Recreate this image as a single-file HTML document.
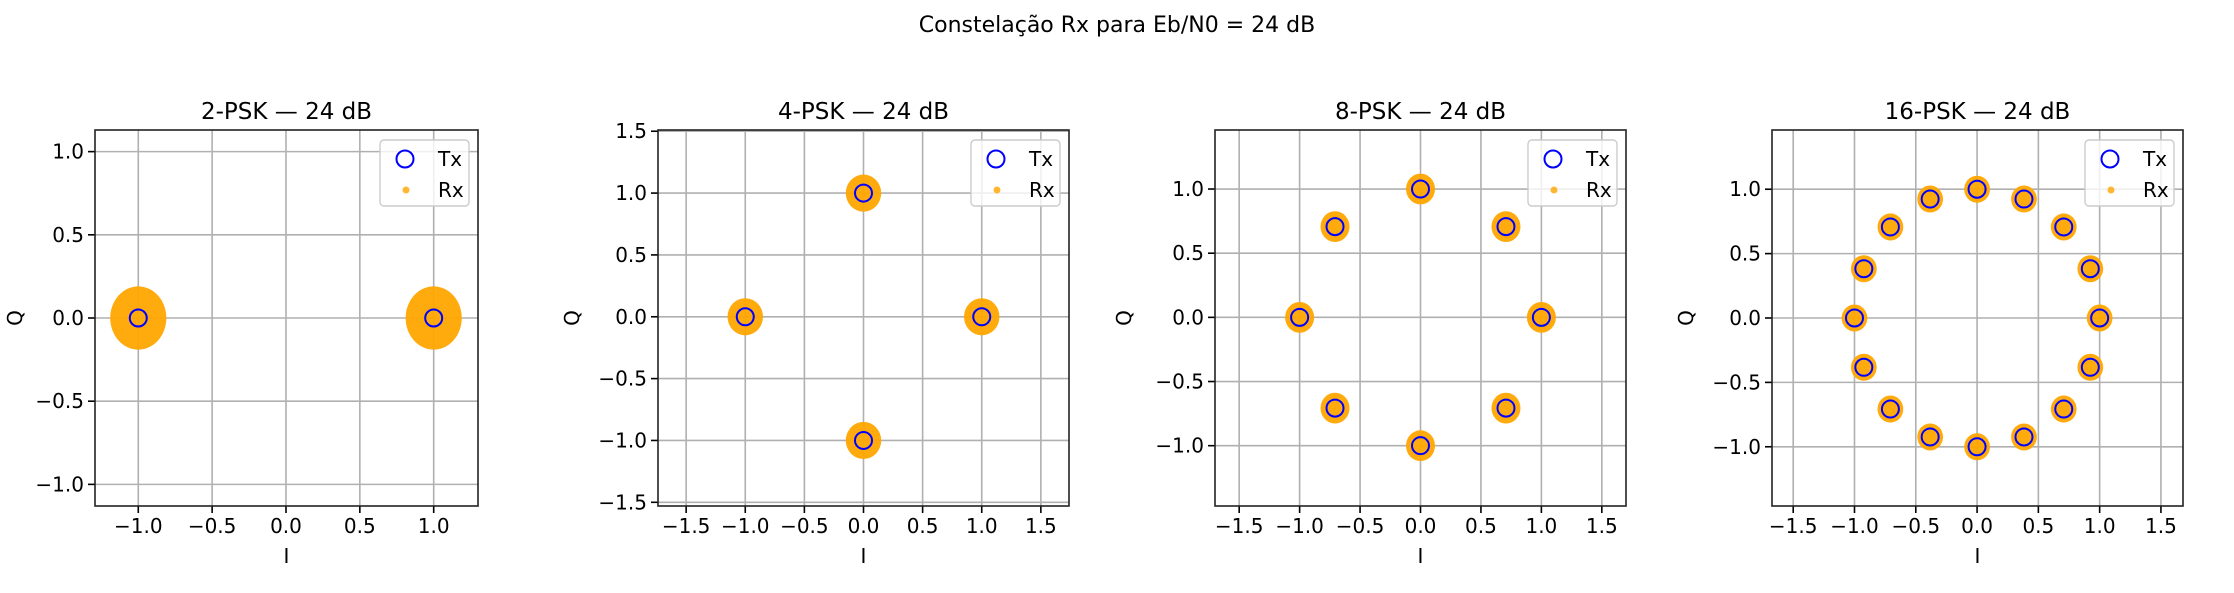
<!DOCTYPE html>
<html><head><meta charset="utf-8">
<style>
html,body{margin:0;padding:0;background:#fff;}
svg{display:block;font-family:"DejaVu Sans","Liberation Sans",sans-serif;}
</style></head>
<body>
<svg id="fig" width="2234" height="593" viewBox="0 0 2234 593" xmlns="http://www.w3.org/2000/svg">
<rect width="2234" height="593" fill="#fff"/>
<text x="1117" y="32" font-size="22" text-anchor="middle" fill="#000">Constelação Rx para Eb/N0 = 24 dB</text>
</svg>
<script>
// chart data
const panelTitles = ["2-PSK — 24 dB","4-PSK — 24 dB","8-PSK — 24 dB","16-PSK — 24 dB"];
const orders = [2,4,8,16];
const xRanges = [[-1.293,1.30],[-1.738,1.738],[-1.70,1.70],[-1.673,1.68]];
const yRanges = [[-1.13,1.13],[-1.53,1.51],[-1.47,1.46],[-1.46,1.46]];
const xTicks = [[-1,-0.5,0,0.5,1],[-1.5,-1,-0.5,0,0.5,1,1.5],[-1.5,-1,-0.5,0,0.5,1,1.5],[-1.5,-1,-0.5,0,0.5,1,1.5]];
const yTicks = [[-1,-0.5,0,0.5,1],[-1.5,-1,-0.5,0,0.5,1,1.5],[-1,-0.5,0,0.5,1],[-1,-0.5,0,0.5,1]];
const rxSpread = [0.19,0.15,0.12,0.105];
// layout
const boxes = [[95,130,478,506],[658,130,1069,506],[1215,130,1626,506],[1772,130,2183,506]];

const NS="http://www.w3.org/2000/svg";
const svg=document.getElementById('fig');
function mk(tag,attrs,parent){const e=document.createElementNS(NS,tag);for(const k in attrs)e.setAttribute(k,attrs[k]);(parent||svg).appendChild(e);return e;}
function fmt(v){const s=Math.abs(v).toFixed(1);return v<0?"\u2212"+s:s;}

panelTitles.forEach((title,p)=>{
  const [L,T,R,B]=boxes[p];
  const [x0,x1]=xRanges[p],[y0,y1]=yRanges[p];
  const sx=v=>L+(v-x0)/(x1-x0)*(R-L);
  const sy=v=>B-(v-y0)/(y1-y0)*(B-T);
  const g=mk('g',{});
  
  
  const clipId='clip'+p;
  const cp=mk('clipPath',{id:clipId},g);mk('rect',{x:L,y:T,width:R-L,height:B-T},cp);
  // grid & ticks
  xTicks[p].forEach(v=>{
    const x=sx(v);
    const gl=mk('line',{x1:x,x2:x,y1:T,y2:B,stroke:'#b0b0b0','stroke-width':1.6},g);
    
    
    mk('line',{x1:x,x2:x,y1:B,y2:B+7,stroke:'#000','stroke-width':1.6},g);
    const t=mk('text',{x:x,y:B+27,'font-size':20,'text-anchor':'middle',fill:'#000'},g);
    
    
    t.textContent=fmt(v);
  });
  yTicks[p].forEach(v=>{
    const y=sy(v);
    const gl=mk('line',{x1:L,x2:R,y1:y,y2:y,stroke:'#b0b0b0','stroke-width':1.6},g);
    
    
    mk('line',{x1:L-7,x2:L,y1:y,y2:y,stroke:'#000','stroke-width':1.6},g);
    const t=mk('text',{x:L-11,y:y+7,'font-size':20,'text-anchor':'end',fill:'#000'},g);
    
    
    t.textContent=fmt(v);
  });
  const M=orders[p];
  const cg=mk('g',{'clip-path':'url(#'+clipId+')'},g);
  // Rx clusters
  for(let k=0;k<M;k++){
    const a=2*Math.PI*k/M, cx=Math.cos(a), cy=Math.sin(a);
    const rx=rxSpread[p]*(R-L)/(x1-x0), ry=rxSpread[p]*(B-T)/(y1-y0);
    const e=mk('ellipse',{cx:sx(cx),cy:sy(cy),rx:rx,ry:ry,fill:'#ffa500','fill-opacity':0.95},cg);
    
    
  }
  // Tx points
  for(let k=0;k<M;k++){
    const a=2*Math.PI*k/M;
    const c=mk('circle',{cx:sx(Math.cos(a)),cy:sy(Math.sin(a)),r:8.5,fill:'none',stroke:'#0000ff','stroke-width':2},cg);
    
    
  }
  // frame
  mk('rect',{x:L,y:T,width:R-L,height:B-T,fill:'none',stroke:'#222','stroke-width':1.6},g);
  // title + labels
  const tt=mk('text',{x:(L+R)/2,y:119,'font-size':23,'text-anchor':'middle',fill:'#000'},g);
  
  
  tt.textContent=title;
  const xl=mk('text',{x:(L+R)/2,y:563,'font-size':20,'text-anchor':'middle',fill:'#000'},g);
  
  
  xl.textContent='I';
  const qx=L-(p===0?73:(p===2?84:79));
  const yl=mk('text',{x:qx,y:(T+B)/2,'font-size':20,'text-anchor':'middle',fill:'#000',transform:'rotate(-90 '+qx+' '+((T+B)/2)+')'},g);
  
  
  yl.textContent='Q';
  // legend
  const lx=R-98, ly=T+10;
  const lg=mk('g',{},g);
  
  
  mk('rect',{x:lx,y:ly,width:89,height:66,rx:4,fill:'#fff','fill-opacity':0.8,stroke:'#ccc','stroke-width':1.4},lg);
  mk('circle',{cx:lx+25,cy:ly+19,r:8.5,fill:'none',stroke:'#0000ff','stroke-width':2},lg);
  mk('circle',{cx:lx+26,cy:ly+50,r:3.5,fill:'#ffa500','fill-opacity':0.8},lg);
  const t1=mk('text',{x:lx+58,y:ly+26,'font-size':20,fill:'#000'},lg);
  
  
  t1.textContent='Tx';
  const t2=mk('text',{x:lx+58,y:ly+57,'font-size':20,fill:'#000'},lg);
  
  
  t2.textContent='Rx';
});
</script>
</body></html>
